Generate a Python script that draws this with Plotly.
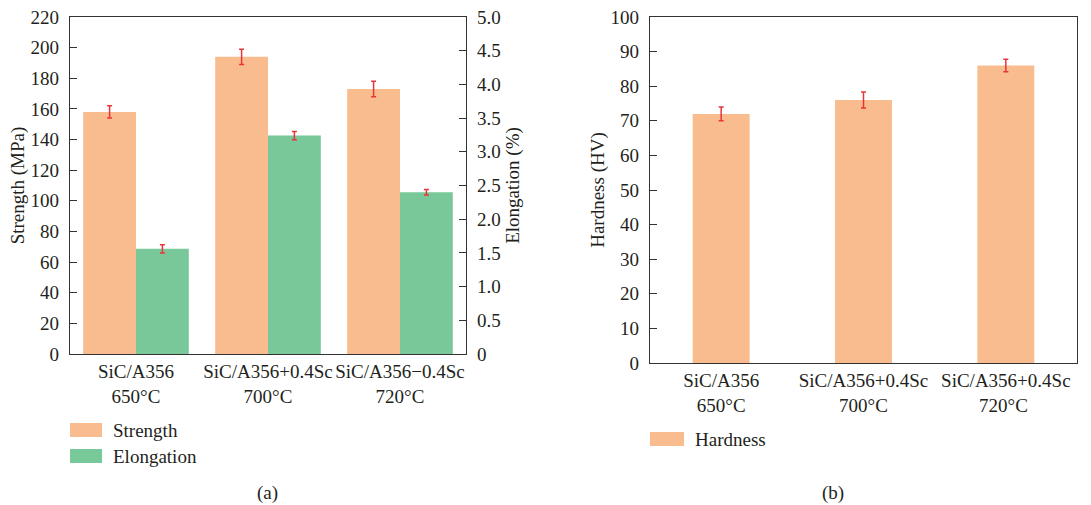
import plotly.graph_objects as go

# ---- data ----
cats_a = ["SiC/A356<br>650°C", "SiC/A356+0.4Sc<br>700°C", "SiC/A356−0.4Sc<br>720°C"]
strength = [158, 194, 173]
strength_err = [4, 5, 5]
elongation = [1.56, 3.24, 2.40]
elongation_err = [0.06, 0.06, 0.04]

cats_b = ["SiC/A356<br>650°C", "SiC/A356+0.4Sc<br>700°C", "SiC/A356+0.4Sc<br>720°C "]
hardness = [72, 76, 86]
hardness_err = [2, 2.3, 1.8]

elong_ticks = [0, 0.5, 1.0, 1.5, 2.0, 2.5, 3.0, 3.5, 4.0, 4.5, 5.0]
elong_ticktext = ["0", "0.5", "1.0", "1.5", "2.0", "2.5", "3.0", "3.5", "4.0", "4.5", "5.0"]

ORANGE = "#F9BC8E"
GREEN = "#79C899"
RED = "#E8353B"
TXT = "#231F20"
FONT = "Liberation Serif"
W, H = 1091, 505

fig = go.Figure()

fig.add_trace(go.Bar(
    x=cats_a, y=strength, name="Strength", marker_color=ORANGE, marker_line_width=0,
    offset=-0.4, width=0.4, xaxis="x", yaxis="y",
    error_y=dict(type="data", array=strength_err, color=RED, thickness=1.5, width=2.5),
    showlegend=False))
fig.add_trace(go.Bar(
    x=cats_a, y=elongation, name="Elongation", marker_color=GREEN, marker_line_width=0,
    offset=0, width=0.4, xaxis="x", yaxis="y2",
    error_y=dict(type="data", array=elongation_err, color=RED, thickness=1.5, width=2.5),
    showlegend=False))
fig.add_trace(go.Bar(
    x=cats_b, y=hardness, name="Hardness", marker_color=ORANGE, marker_line_width=0,
    width=0.4, xaxis="x2", yaxis="y3",
    error_y=dict(type="data", array=hardness_err, color=RED, thickness=1.5, width=2.5),
    showlegend=False))

def px(x):
    return x / W

def py(y):
    return 1 - y / H

axis_common = dict(showline=True, linecolor="#333333", linewidth=1.2, showgrid=False,
                   zeroline=False, automargin=False,
                   tickfont=dict(family=FONT, size=19, color=TXT))

title_font = dict(family=FONT, size=19, color=TXT)

fig.update_layout(
    width=W, height=H,
    margin=dict(l=0, r=0, t=0, b=0),
    paper_bgcolor="white", plot_bgcolor="white",
    font=dict(family=FONT, size=19, color=TXT),
    xaxis=dict(domain=[px(70), px(466)], anchor="y", mirror=True, ticks="",
               range=[-0.5, 2.5], **axis_common),
    yaxis=dict(domain=[py(354), py(17)], anchor="x", range=[0, 220], dtick=20,
               ticks="inside", ticklen=7, tickcolor="#333333", mirror=True,
               ticklabelstandoff=6,
               title=dict(text="Strength (MPa)", standoff=0, font=title_font),
               **axis_common),
    yaxis2=dict(overlaying="y", side="right", anchor="x", range=[0, 5.0],
                tickvals=elong_ticks, ticktext=elong_ticktext,
                ticks="inside", ticklen=7, tickcolor="#333333",
                ticklabelstandoff=6,
                title=dict(text="Elongation (%)", standoff=6, font=title_font),
                **axis_common),
    xaxis2=dict(domain=[px(650), px(1077)], anchor="y3", mirror=True, ticks="",
                range=[-0.5, 2.5], **axis_common),
    yaxis3=dict(domain=[py(363), py(17)], anchor="x2", range=[0, 100], dtick=10,
                ticks="inside", ticklen=7, tickcolor="#333333", mirror=True,
                ticklabelstandoff=6,
                title=dict(text="Hardness (HV)", standoff=0, font=title_font),
                **axis_common),
)

# manual legends
legend_items = [
    (70, 102, 423, 437, ORANGE, "Strength"),
    (70, 102, 449, 463, GREEN, "Elongation"),
    (650, 684, 432, 446, ORANGE, "Hardness"),
]
for x0, x1, y0, y1, col, label in legend_items:
    fig.add_shape(type="rect", xref="paper", yref="paper",
                  x0=px(x0), x1=px(x1), y0=py(y1), y1=py(y0),
                  fillcolor=col, line_width=0)
    fig.add_annotation(text=label, xref="paper", yref="paper",
                       x=px(x1 + 9), y=py((y0 + y1) / 2), xanchor="left", yanchor="middle",
                       showarrow=False, font=dict(family=FONT, size=19, color=TXT))

for lab, xc in [("(a)", 267), ("(b)", 833)]:
    fig.add_annotation(text=lab, xref="paper", yref="paper", x=px(xc), y=py(493),
                       xanchor="center", yanchor="middle", showarrow=False,
                       font=dict(family=FONT, size=19, color=TXT))

fig.write_html("out.html", config={"displayModeBar": False},
               post_script="document.body.style.margin='0';document.body.style.overflow='hidden';")
